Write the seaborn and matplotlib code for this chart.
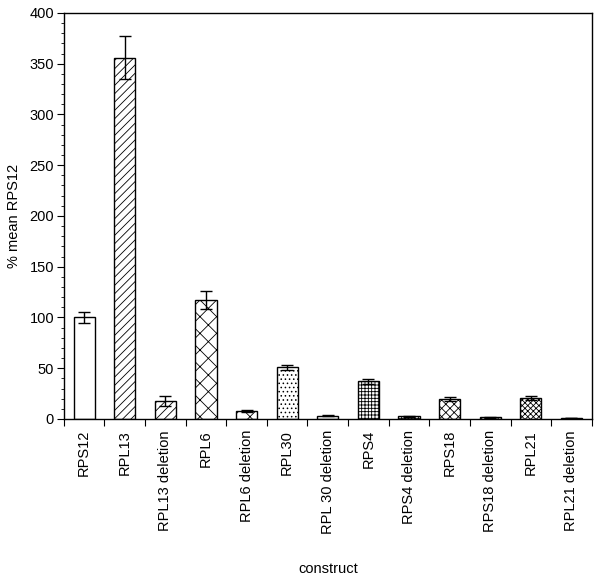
import pandas as pd
import seaborn as sns
import matplotlib.pyplot as plt
from matplotlib.ticker import MultipleLocator, FixedLocator

# values
constructs = ['RPS12', 'RPL13', 'RPL13 deletion', 'RPL6', 'RPL6 deletion', 'RPL30',
              'RPL 30 deletion', 'RPS4', 'RPS4 deletion', 'RPS18', 'RPS18 deletion',
              'RPL21', 'RPL21 deletion']
mean_pct = [100, 356, 18, 117, 8, 51, 3, 37, 2.5, 20, 1.5, 21, 1]
err_pct = [5, 21, 5, 9, 1, 2.5, 0.5, 2.5, 0.5, 2, 0.3, 2, 0.3]
hatches = ['', '////', '////', 'xx', 'xx', '....', '', '+++++', '+++++', 'xxxx', 'xxxx', 'xxxxxx', 'xxxxxx']

df = pd.DataFrame({'construct': constructs, 'pct': mean_pct, 'err': err_pct})

sns.set_style('ticks')
plt.rcParams['font.family'] = ['Liberation Sans', 'DejaVu Sans']
plt.rcParams['hatch.linewidth'] = 0.6
plt.rcParams['text.color'] = 'black'
plt.rcParams['axes.labelcolor'] = 'black'
plt.rcParams['xtick.color'] = 'black'
plt.rcParams['ytick.color'] = 'black'
plt.rcParams['axes.edgecolor'] = 'black'

fig = plt.figure(figsize=(6.02, 5.76), dpi=100)
ax = fig.add_axes([0.106, 0.2726, 0.877, 0.705])

sns.barplot(data=df, x='construct', y='pct', color='white', edgecolor='black',
            linewidth=1.0, width=0.52, errorbar=None, ax=ax)
for bar, h in zip(ax.patches, hatches):
    bar.set_hatch(h)
    bar.set_facecolor('white')

ax.errorbar(range(len(constructs)), df['pct'], yerr=df['err'], fmt='none',
            ecolor='black', elinewidth=1.0, capsize=4, capthick=1.0)

ax.set_xlim(-0.5, len(constructs) - 0.5)
ax.set_ylim(0, 400)
ax.yaxis.set_major_locator(MultipleLocator(50))
ax.yaxis.set_minor_locator(MultipleLocator(10))
ax.tick_params(axis='y', which='major', length=5, width=0.8, labelsize=10.5, pad=2)
ax.tick_params(axis='y', which='minor', length=2.5, width=0.6)

# tick marks sit between categories, labels under bars
ax.xaxis.set_minor_locator(FixedLocator([i + 0.5 for i in range(-1, len(constructs))]))
ax.tick_params(axis='x', which='minor', length=5, width=0.8)
ax.tick_params(axis='x', which='major', length=0, labelsize=10.5, pad=8)
ax.set_xticks(range(len(constructs)))
ax.set_xticklabels(constructs, rotation=90, va='top')

for s in ax.spines.values():
    s.set_linewidth(1.0)

ax.set_xlabel('construct', fontsize=10.5, labelpad=20)
ax.set_ylabel('% mean RPS12', fontsize=10.5, labelpad=6)

fig.savefig('out.png', dpi=100)
